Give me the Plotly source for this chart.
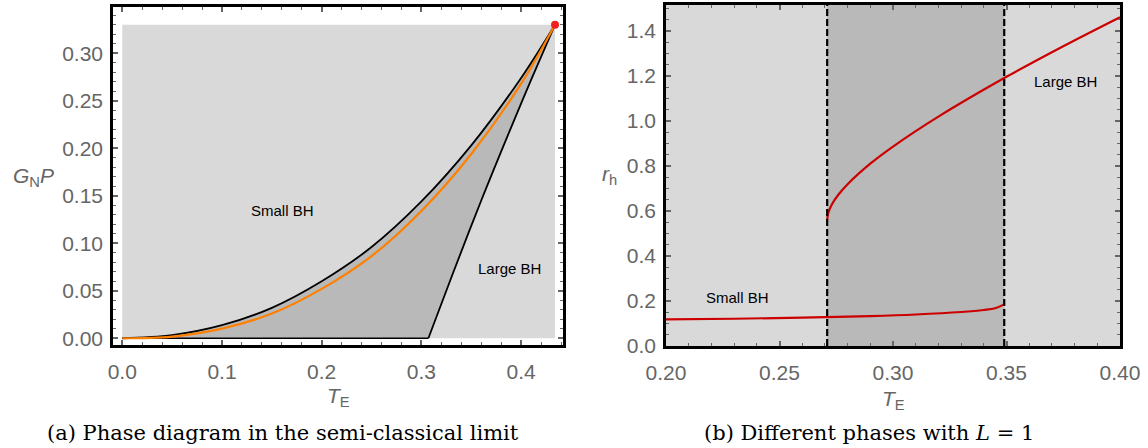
import plotly.graph_objects as go

# ---------------- data: panel (a) ----------------
T_c = 0.434
P_c = 0.330
upper_T = [0.0, 0.05, 0.1, 0.15, 0.2, 0.25, 0.3, 0.35, 0.4, 0.434]
upper_P = [0.0, 0.0033, 0.0137, 0.032, 0.060, 0.096, 0.144, 0.203, 0.274, 0.330]
orange_T = [0.0, 0.05, 0.1, 0.15, 0.2, 0.25, 0.3, 0.35, 0.4, 0.434]
orange_P = [0.0, 0.0018, 0.0102, 0.026, 0.052, 0.0865, 0.134, 0.194, 0.268, 0.330]
spin_T = [0.307, 0.33, 0.36, 0.39, 0.41, 0.434]
spin_P = [0.0, 0.064, 0.145, 0.222, 0.272, 0.330]
a_xticks = [0.0, 0.1, 0.2, 0.3, 0.4]
a_yticks = [0.0, 0.05, 0.10, 0.15, 0.20, 0.25, 0.30]

# ---------------- data: panel (b) ----------------
T_1 = 0.271
T_2 = 0.349
small_T = [0.2, 0.23, 0.26, 0.29, 0.31, 0.33, 0.34, 0.345, 0.349]
small_r = [0.118, 0.121, 0.126, 0.133, 0.140, 0.151, 0.160, 0.168, 0.185]
large_T = [0.271, 0.2715, 0.273, 0.276, 0.28, 0.29, 0.30, 0.32, 0.35, 0.375, 0.4]
large_r = [0.56, 0.592, 0.628, 0.673, 0.719, 0.81, 0.886, 1.019, 1.196, 1.332, 1.461]
b_xticks = [0.20, 0.25, 0.30, 0.35, 0.40]
b_yticks = [0.0, 0.2, 0.4, 0.6, 0.8, 1.0, 1.2, 1.4]

LIGHT = "#D9D9D9"
DARK = "#B9B9B9"
TICKGRAY = "#666666"
SANS = "Liberation Sans, Arial, sans-serif"
SERIF = "DejaVu Serif, serif"

fig = go.Figure()

# dark gray coexistence region (polygon: bottom, spinodal line, upper curve back)
poly_T = [0.0] + spin_T + upper_T[::-1]
poly_P = [0.0] + spin_P + upper_P[::-1]
fig.add_trace(go.Scatter(x=poly_T, y=poly_P, fill="toself", fillcolor=DARK,
                         mode="none", xaxis="x", yaxis="y", hoverinfo="skip"))
# bottom edge
fig.add_trace(go.Scatter(x=[0.0, spin_T[0]], y=[0.0, 0.0], mode="lines",
                         line=dict(color="black", width=1.5), xaxis="x", yaxis="y"))
fig.add_trace(go.Scatter(x=upper_T, y=upper_P, mode="lines",
                         line=dict(color="black", width=1.8, shape="spline"),
                         xaxis="x", yaxis="y"))
fig.add_trace(go.Scatter(x=spin_T, y=spin_P, mode="lines",
                         line=dict(color="black", width=1.8, shape="spline"),
                         xaxis="x", yaxis="y"))
fig.add_trace(go.Scatter(x=orange_T, y=orange_P, mode="lines",
                         line=dict(color="#FF8000", width=2.2, shape="spline"),
                         xaxis="x", yaxis="y"))
fig.add_trace(go.Scatter(x=[T_c], y=[P_c], mode="markers",
                         marker=dict(color="#F02020", size=8),
                         xaxis="x", yaxis="y"))

# panel (b) curves
fig.add_trace(go.Scatter(x=small_T, y=small_r, mode="lines",
                         line=dict(color="#CC0000", width=2.2, shape="spline"),
                         xaxis="x2", yaxis="y2"))
fig.add_trace(go.Scatter(x=large_T, y=large_r, mode="lines",
                         line=dict(color="#CC0000", width=2.2, shape="spline"),
                         xaxis="x2", yaxis="y2"))

shapes = [
    dict(type="rect", xref="x", yref="y", x0=0.0, x1=T_c, y0=0.0, y1=P_c,
         fillcolor=LIGHT, line=dict(width=0), layer="below"),
    dict(type="rect", xref="x2 domain", yref="y2 domain", x0=0, x1=1, y0=0, y1=1,
         fillcolor=LIGHT, line=dict(width=0), layer="below"),
    dict(type="rect", xref="x2", yref="y2 domain", x0=T_1, x1=T_2, y0=0, y1=1,
         fillcolor=DARK, line=dict(width=0), layer="below"),
    dict(type="line", xref="x2", yref="y2 domain", x0=T_1, x1=T_1, y0=0, y1=1,
         line=dict(color="black", width=2.2, dash="7px,3px"), layer="above"),
    dict(type="line", xref="x2", yref="y2 domain", x0=T_2, x1=T_2, y0=0, y1=1,
         line=dict(color="black", width=2.2, dash="7px,3px"), layer="above"),
]

def axis(domain, rng, tickvals, fmt, minor_dtick, anchor, standoff):
    return dict(domain=domain, range=rng, tickvals=tickvals, tickformat=fmt,
                showline=True, linecolor="black", linewidth=2.5, mirror="allticks",
                ticks="inside", ticklen=5, tickwidth=1.5, tickcolor=TICKGRAY,
                minor=dict(ticks="inside", ticklen=3, tickwidth=1, tickcolor=TICKGRAY,
                           dtick=minor_dtick),
                showgrid=False, zeroline=False, anchor=anchor, automargin=False,
                ticklabelstandoff=standoff,
                tickfont=dict(family=SANS, size=21, color=TICKGRAY))

fig.update_layout(
    width=1148, height=448,
    margin=dict(l=0, r=0, t=0, b=0),
    paper_bgcolor="white", plot_bgcolor="white",
    showlegend=False,
    xaxis=axis([113/1148, 563/1148], [-0.0093, 0.442], a_xticks, ".1f", 0.02, "y", 6),
    yaxis=axis([(448-345)/448, (448-7)/448], [-0.0071, 0.3487], a_yticks, ".2f", 0.01, "x", 3),
    xaxis2=axis([666/1148, 1120/1148], [0.2, 0.4], b_xticks, ".2f", 0.01, "y2", 6),
    yaxis2=axis([(448-346)/448, (448-5)/448], [0.0, 1.515], b_yticks, ".1f", 0.05, "x2", 3),
    shapes=shapes,
)

def A(text, x, y, xref, yref, family, size, color):
    return dict(text=text, x=x, y=y, xref=xref, yref=yref, showarrow=False,
                xanchor="center", yanchor="middle",
                font=dict(family=family, size=size, color=color))

ann = [
    A("Small BH", 0.161, 0.134, "x", "y", SANS, 15, "black"),
    A("Large BH", 0.388, 0.073, "x", "y", SANS, 15, "black"),
    A("Small BH", 0.2313, 0.216, "x2", "y2", SANS, 15, "black"),
    A("Large BH", 0.3758, 1.175, "x2", "y2", SANS, 15, "black"),
    A("<i>G</i><sub>N</sub><i>P</i>", 33/1148, 1-177/448, "paper", "paper", SANS, 21, TICKGRAY),
    A("<i>r</i><sub>h</sub>", 609/1148, 1-175/448, "paper", "paper", SANS, 21, TICKGRAY),
    A("<i>T</i><sub>E</sub>", 338/1148, 1-397/448, "paper", "paper", SANS, 21, TICKGRAY),
    A("<i>T</i><sub>E</sub>", 893/1148, 1-400/448, "paper", "paper", SANS, 21, TICKGRAY),
    A("(a) Phase diagram in the semi-classical limit", 283/1148, 1-433/448,
      "paper", "paper", SERIF, 21, "black"),
    A("(b) Different phases with <i>L</i> = 1", 869/1148, 1-433/448,
      "paper", "paper", SERIF, 21, "black"),
]
fig.update_layout(annotations=ann)

fig.write_html("out.html")
